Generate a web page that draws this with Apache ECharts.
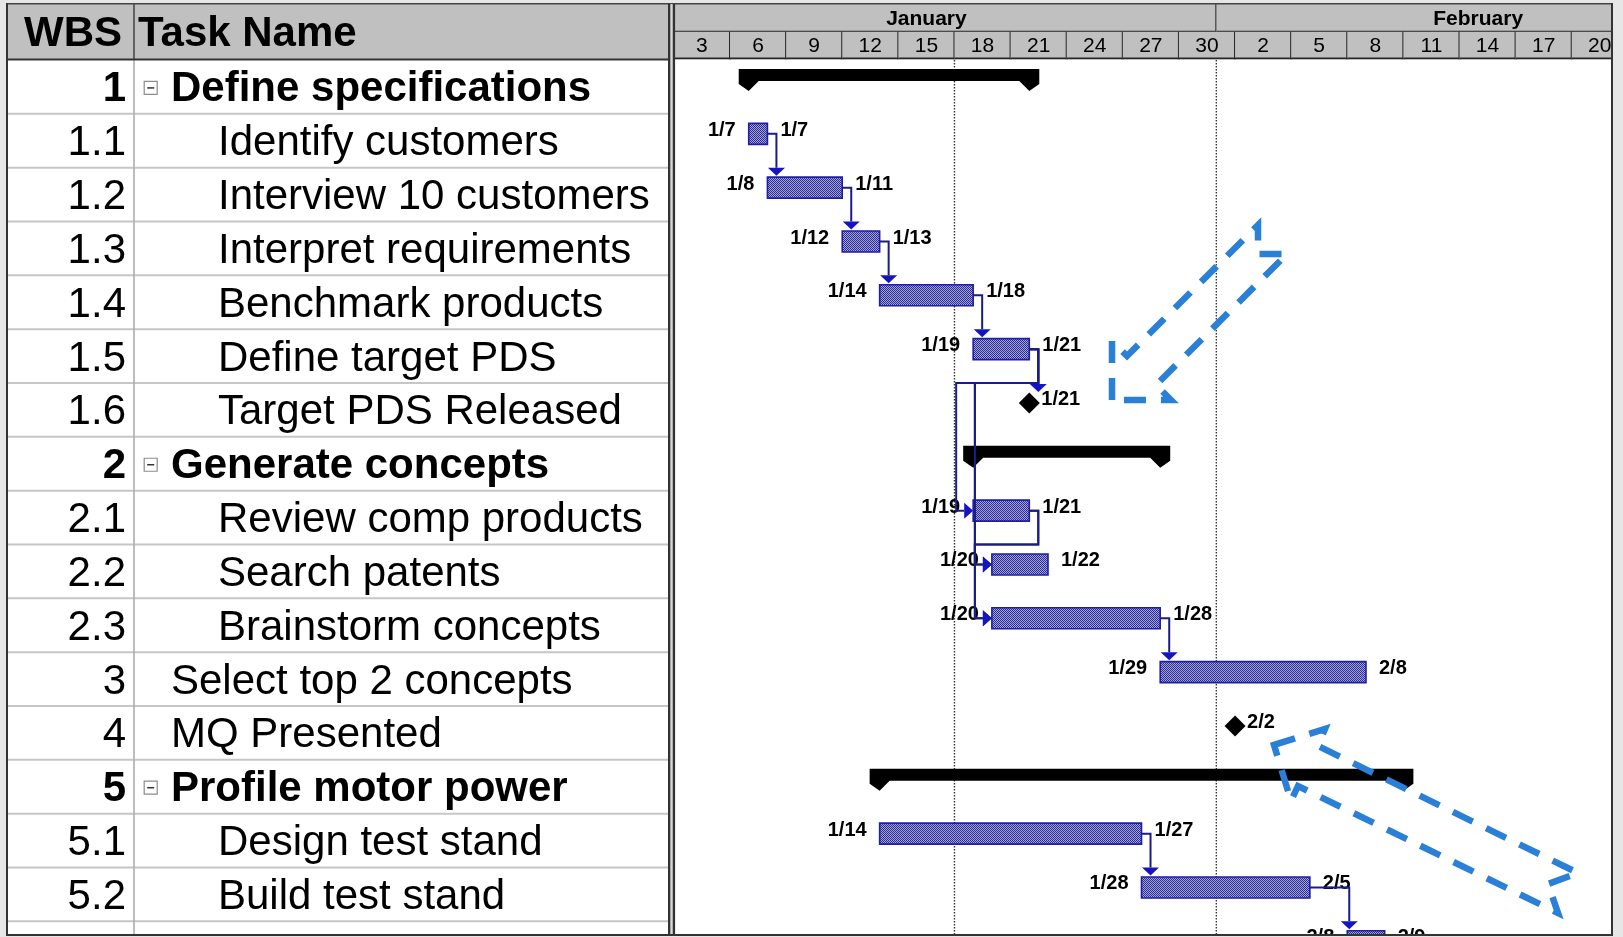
<!DOCTYPE html>
<html>
<head>
<meta charset="utf-8">
<title>Gantt</title>
<script src="https://cdn.jsdelivr.net/npm/echarts@6/dist/echarts.min.js"></script>
<style>
html, body { margin: 0; padding: 0; background: #e6e6e6; }
#gantt { width: 1623px; height: 937px; }
</style>
</head>
<body>
<div id="gantt"></div>
<script>
// task table
var wbs = ['1', '1.1', '1.2', '1.3', '1.4', '1.5', '1.6', '2', '2.1', '2.2', '2.3', '3', '4', '5', '5.1', '5.2', '5.3'];
var taskNames = ['Define specifications', 'Identify customers', 'Interview 10 customers', 'Interpret requirements',
    'Benchmark products', 'Define target PDS', 'Target PDS Released', 'Generate concepts', 'Review comp products',
    'Search patents', 'Brainstorm concepts', 'Select top 2 concepts', 'MQ Presented', 'Profile motor power',
    'Design test stand', 'Build test stand', ''];
var outline = [0, 1, 1, 1, 1, 1, 1, 0, 1, 1, 1, 0, 0, 0, 1, 1, 1];
// S = summary, T = task, M = milestone
var kinds = ['S', 'T', 'T', 'T', 'T', 'T', 'M', 'S', 'T', 'T', 'T', 'T', 'M', 'S', 'T', 'T', 'T'];
var starts = ['1/7', '1/7', '1/8', '1/12', '1/14', '1/19', '1/21', '1/19', '1/19', '1/20', '1/20', '1/29', '2/2', '1/14', '1/14', '1/28', '2/8'];
var finishes = ['1/21', '1/7', '1/11', '1/13', '1/18', '1/21', '1/21', '1/28', '1/21', '1/22', '1/28', '2/8', '2/2', '2/10', '1/27', '2/5', '2/9'];
// milestone time of day (8 = start of work day, 17 = end)
var milestoneHour = { '1.6': 17, '4': 8 };
var links = [['1.1', '1.2'], ['1.2', '1.3'], ['1.3', '1.4'], ['1.4', '1.5'], ['1.5', '1.6'],
    ['1.5', '2.1'], ['1.5', '2.2'], ['1.5', '2.3'], ['2.1', '2.2'], ['2.1', '2.3'],
    ['2.3', '3'], ['5.1', '5.2'], ['5.2', '5.3']];

// timescale
var months = ['January', 'February'];
var monthStarts = [1, 32, 60];
var dayTicks = [3, 6, 9, 12, 15, 18, 21, 24, 27, 30, 33, 36, 39, 42, 45, 48, 51];
var dottedDays = [18, 32];

var FONT = '"Liberation Sans", Arial, sans-serif';

function dayNum(s) {
    var p = s.split('/');
    return (+p[0] === 1 ? 0 : 31) + (+p[1]);
}
function dayLabel(d) { return String(d > 31 ? d - 31 : d); }
function msVal(i) { return dayNum(starts[i]) + (milestoneHour[wbs[i]] - 8) / 9; }
function startVal(i) { return kinds[i] === 'M' ? msVal(i) : dayNum(starts[i]); }
function endVal(i) { return kinds[i] === 'M' ? msVal(i) : dayNum(finishes[i]) + 1; }

// checkered fill used by MS Project task bars
var pat = document.createElement('canvas');
pat.width = 2; pat.height = 2;
var pctx = pat.getContext('2d');
pctx.fillStyle = '#a6a6d6'; pctx.fillRect(0, 0, 2, 2);
pctx.fillStyle = '#2a2a96'; pctx.fillRect(0, 0, 1, 1); pctx.fillRect(1, 1, 1, 1);
var barFill = { image: pat, repeat: 'repeat' };

function renderRow(params, api) {
    var i = params.dataIndex;
    var cs = params.coordSys;
    var top = api.coord([0, i])[1], bot = api.coord([0, i + 1])[1], mid = (top + bot) / 2;
    var x = function (v) { return api.coord([v, i])[0]; };
    var bold = kinds[i] === 'S';
    var font = (bold ? 'bold ' : '') + '42px ' + FONT;
    var kids = [
        { type: 'line', shape: { x1: x(0), y1: bot, x2: x(660), y2: bot }, style: { stroke: '#c6c6c6', lineWidth: 2 } },
        { type: 'line', shape: { x1: x(126), y1: top, x2: x(126), y2: bot }, style: { stroke: '#a8a8a8', lineWidth: 1.5 } }
    ];
    // rows cut by the bottom edge show no text
    if (mid < cs.y + cs.height) {
        kids.push({ type: 'text', x: x(118), y: mid + 3, style: { text: wbs[i], font: font, fill: '#000', align: 'right', verticalAlign: 'middle' } });
        kids.push({ type: 'text', x: x(outline[i] ? 210 : 163), y: mid + 3, style: { text: taskNames[i], font: font, fill: '#000', align: 'left', verticalAlign: 'middle' } });
        if (bold) {
            kids.push({ type: 'rect', shape: { x: x(136.2), y: mid - 5.5, width: 13, height: 13 }, style: { fill: '#fff', stroke: '#8c8c8c', lineWidth: 1.2 } });
            kids.push({ type: 'line', shape: { x1: x(139.2), y1: mid + 1, x2: x(146.2), y2: mid + 1 }, style: { stroke: '#333', lineWidth: 1.5 } });
        }
    }
    return { type: 'group', children: kids };
}

function renderTask(params, api) {
    var i = params.dataIndex;
    var top = api.coord([3, i])[1];
    var mid = top + 20;
    var s = api.coord([startVal(i), i])[0];
    var e = api.coord([endVal(i), i])[0];
    var font = 'bold 20px ' + FONT;
    var kids = [];
    if (kinds[i] === 'S') {
        var t = top + 9, b = top + 21, tip = top + 31;
        kids.push({ type: 'polygon', shape: { points: [[s - 10, t], [e + 10, t], [e + 10, b + 3], [e, tip], [e - 10, b], [s + 10, b], [s, tip], [s - 10, b + 3]] }, style: { fill: '#000' } });
    } else if (kinds[i] === 'T') {
        kids.push({ type: 'rect', shape: { x: s, y: top + 9.5, width: e - s, height: 21 }, style: { fill: barFill, stroke: '#1e1ea6', lineWidth: 1.6 } });
        kids.push({ type: 'text', x: s - 13, y: mid - 3.5, style: { text: starts[i], font: font, fill: '#000', align: 'right', verticalAlign: 'middle' } });
        kids.push({ type: 'text', x: e + 13, y: mid - 3.5, style: { text: finishes[i], font: font, fill: '#000', align: 'left', verticalAlign: 'middle' } });
    } else {
        kids.push({ type: 'polygon', shape: { points: [[s, mid - 10.5], [s + 10.5, mid], [s, mid + 10.5], [s - 10.5, mid]] }, style: { fill: '#000' } });
        kids.push({ type: 'text', x: s + 12, y: mid - 3.5, style: { text: finishes[i], font: font, fill: '#000', align: 'left', verticalAlign: 'middle' } });
    }
    return { type: 'group', children: kids };
}

function renderLink(params, api) {
    var lk = links[params.dataIndex];
    var p = wbs.indexOf(lk[0]), q = wbs.indexOf(lk[1]);
    var rowH = api.size([0, 1])[1];
    var pTop = api.coord([3, p])[1], qTop = api.coord([3, q])[1];
    var pMid = pTop + 20, qMid = qTop + 20;
    var pe = api.coord([endVal(p), p])[0];
    var qs = api.coord([startVal(q), q])[0];
    var pts, head;
    if (startVal(q) >= endVal(p) - 1e-6) {
        // successor starts after: drop down onto its top
        var vx = Math.max(pe + 9, qs + 2);
        var tipY = kinds[q] === 'M' ? qMid - 11 : qTop + 8;
        pts = [[pe, pMid], [vx, pMid], [vx, tipY - 8]];
        head = [[vx - 8.5, tipY - 8], [vx + 8.5, tipY - 8], [vx, tipY]];
    } else {
        // successor overlaps: route below the row and come in from the left
        var vx2 = pe + 9, yb = pTop + rowH, hx = qs - 17;
        pts = [[pe, pMid], [vx2, pMid], [vx2, yb], [hx, yb], [hx, qMid], [qs - 9, qMid]];
        head = [[qs - 9, qMid - 8], [qs - 9, qMid + 8], [qs, qMid]];
    }
    return {
        type: 'group', children: [
            { type: 'polyline', shape: { points: pts }, style: { stroke: '#1c1c86', lineWidth: 2, fill: null } },
            { type: 'polygon', shape: { points: head }, style: { fill: '#1414c4' } }
        ]
    };
}

function renderDotted(params, api) {
    var cs = params.coordSys;
    var x = api.coord([dottedDays[params.dataIndex], 0])[0];
    return { type: 'line', shape: { x1: x, y1: cs.y, x2: x, y2: cs.y + cs.height }, style: { stroke: '#333', lineWidth: 1.4, lineDash: [1.5, 1.5] } };
}

function renderMonth(params, api) {
    var i = params.dataIndex;
    var x0 = api.coord([monthStarts[i], 0])[0], x1 = api.coord([monthStarts[i + 1], 0])[0];
    var y0 = api.coord([3, 0])[1], y1 = api.coord([3, 1])[1];
    return {
        type: 'group', children: [
            { type: 'rect', shape: { x: x0, y: y0, width: x1 - x0, height: y1 - y0 }, style: { fill: '#c0c0c0' } },
            { type: 'line', shape: { x1: x0, y1: y1, x2: x1, y2: y1 }, style: { stroke: '#262626', lineWidth: 2 } },
            { type: 'line', shape: { x1: x1, y1: y0, x2: x1, y2: y1 }, style: { stroke: '#262626', lineWidth: 2 } },
            { type: 'text', x: (x0 + x1) / 2, y: (y0 + y1) / 2 + 1, style: { text: months[i], font: 'bold 21px ' + FONT, fill: '#000', align: 'center', verticalAlign: 'middle' } }
        ]
    };
}

function renderDay(params, api) {
    var d = dayTicks[params.dataIndex];
    var x0 = api.coord([d, 1])[0], x1 = api.coord([d + 3, 1])[0];
    var y0 = api.coord([d, 1])[1], y1 = api.coord([d, 2])[1];
    return {
        type: 'group', children: [
            { type: 'rect', shape: { x: x0, y: y0, width: x1 - x0, height: y1 - y0 }, style: { fill: '#c0c0c0' } },
            { type: 'line', shape: { x1: x1, y1: y0, x2: x1, y2: y1 }, style: { stroke: '#262626', lineWidth: 2 } },
            { type: 'line', shape: { x1: x0, y1: y1 - 1, x2: x1, y2: y1 - 1 }, style: { stroke: '#262626', lineWidth: 2 } },
            { type: 'text', x: (x0 + x1) / 2, y: (y0 + y1) / 2 + 1, style: { text: dayLabel(d), font: '21px ' + FONT, fill: '#000', align: 'center', verticalAlign: 'middle' } }
        ]
    };
}

var myChart = echarts.init(document.getElementById('gantt'));
var XMIN = 3, XMAX = 53.1, ROWS_SHOWN = 16.236;

var dash = { fill: 'none', stroke: '#2a7fd6', lineWidth: 6.5, lineDash: [22, 15] };
var option = {
    animation: false,
    backgroundColor: '#e6e6e6',
    graphic: {
        elements: [
            { type: 'rect', z: 0, shape: { x: 6, y: 3, width: 1607, height: 932 }, style: { fill: '#fff' } },
            { type: 'rect', z: 1, shape: { x: 8, y: 4, width: 660, height: 55.5 }, style: { fill: '#c0c0c0' } },
            { type: 'line', z: 10, shape: { x1: 134, y1: 4, x2: 134, y2: 59.5 }, style: { stroke: '#444', lineWidth: 1.5 } },
            { type: 'line', z: 10, shape: { x1: 8, y1: 59.5, x2: 668, y2: 59.5 }, style: { stroke: '#333', lineWidth: 2 } },
            { type: 'line', z: 10, shape: { x1: 6, y1: 3.8, x2: 1612, y2: 3.8 }, style: { stroke: '#444', lineWidth: 1.6 } },
            { type: 'text', z: 10, x: 122, y: 34, style: { text: 'WBS', font: 'bold 42px ' + FONT, fill: '#000', align: 'right', verticalAlign: 'middle' } },
            { type: 'text', z: 10, x: 138, y: 34, style: { text: 'Task Name', font: 'bold 42px ' + FONT, fill: '#000', align: 'left', verticalAlign: 'middle' } },
            // splitter between table and chart
            { type: 'rect', z: 10, shape: { x: 668, y: 4, width: 2.6, height: 931 }, style: { fill: '#333' } },
            { type: 'rect', z: 10, shape: { x: 670.6, y: 4, width: 2.1, height: 931 }, style: { fill: '#d8d8d8' } },
            { type: 'rect', z: 10, shape: { x: 672.7, y: 4, width: 2.4, height: 931 }, style: { fill: '#333' } },
            // outer frame
            { type: 'rect', z: 10, shape: { x: 6, y: 3, width: 2, height: 933 }, style: { fill: '#333' } },
            { type: 'rect', z: 10, shape: { x: 1611, y: 3, width: 2, height: 933 }, style: { fill: '#333' } },
            { type: 'rect', z: 10, shape: { x: 6, y: 934, width: 1607, height: 2 }, style: { fill: '#333' } },
            // dashed call-out arrows
            { type: 'polygon', z: 100, shape: { points: [[1112, 400], [1112, 341], [1127, 356], [1258, 225], [1258, 254], [1287, 254], [1156, 385], [1171, 400]] }, style: dash },
            { type: 'polygon', z: 100, shape: { points: [[1274, 745], [1325, 729], [1318, 746], [1578, 873], [1548, 884], [1558, 913], [1298, 786], [1291, 801]] }, style: dash }
        ]
    },
    grid: [
        { left: 8, width: 660, top: 60, bottom: 3 },
        { left: 673.9, right: 12, top: 60, bottom: 3 },
        { left: 673.9, right: 12, top: 4, height: 55.5 }
    ],
    xAxis: [
        { gridIndex: 0, type: 'value', min: 0, max: 660, show: false },
        { gridIndex: 1, type: 'value', min: XMIN, max: XMAX, show: false },
        { gridIndex: 2, type: 'value', min: XMIN, max: XMAX, show: false }
    ],
    yAxis: [
        { gridIndex: 0, type: 'value', min: 0, max: ROWS_SHOWN, inverse: true, show: false },
        { gridIndex: 1, type: 'value', min: 0, max: ROWS_SHOWN, inverse: true, show: false },
        { gridIndex: 2, type: 'value', min: 0, max: 2, inverse: true, show: false }
    ],
    series: [
        {
            type: 'custom', name: 'table', xAxisIndex: 0, yAxisIndex: 0, clip: true, z: 2,
            renderItem: renderRow,
            data: wbs.map(function (w, i) { return [0, i]; })
        },
        {
            type: 'custom', name: 'months', xAxisIndex: 2, yAxisIndex: 2, clip: true, z: 2,
            renderItem: renderMonth,
            data: months.map(function (m, i) { return [monthStarts[i], 0]; })
        },
        {
            type: 'custom', name: 'days', xAxisIndex: 2, yAxisIndex: 2, clip: true, z: 3,
            renderItem: renderDay,
            data: dayTicks.map(function (d) { return [d, 1]; })
        },
        {
            type: 'custom', name: 'dotted', xAxisIndex: 1, yAxisIndex: 1, clip: true, z: 1,
            renderItem: renderDotted,
            data: dottedDays.map(function (d) { return [d, 0]; })
        },
        {
            type: 'custom', name: 'tasks', xAxisIndex: 1, yAxisIndex: 1, clip: true, z: 2,
            renderItem: renderTask,
            encode: { x: [0, 2], y: 1 },
            data: wbs.map(function (w, i) { return [startVal(i), i, endVal(i)]; })
        },
        {
            type: 'custom', name: 'links', xAxisIndex: 1, yAxisIndex: 1, clip: true, z: 3,
            renderItem: renderLink,
            data: links.map(function (l) { var q = wbs.indexOf(l[1]); return [startVal(q), q]; })
        }
    ]
};
myChart.setOption(option);
</script>
</body>
</html>
